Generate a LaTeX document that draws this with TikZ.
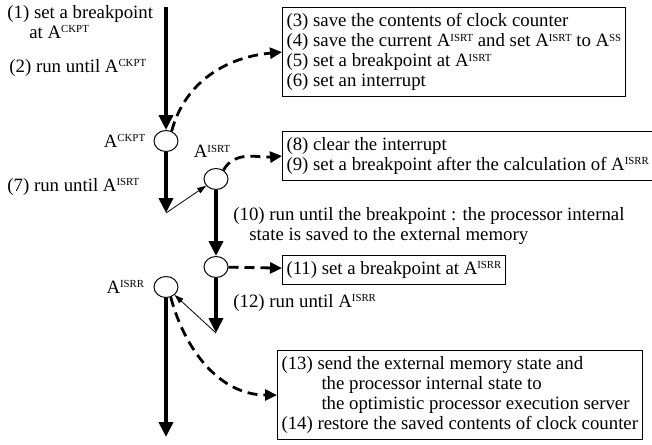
\documentclass[tikz,border=0pt]{standalone}
\usepackage{fontspec}
\setmainfont{Liberation Serif}
\usetikzlibrary{arrows.meta,positioning,shapes.geometric}
\newcommand{\addr}[1]{A\raisebox{2.8pt}{\fontsize{5.4}{6}\selectfont #1}}
\tikzstyle{bpt}=[draw, ellipse, fill=white, line width=0.5pt, minimum width=12pt, minimum height=10.5pt, inner sep=0pt]
\tikzstyle{box}=[draw, line width=0.5pt, align=left, inner xsep=2pt, inner ysep=3pt]
\tikzstyle{lab}=[align=left, inner sep=0pt]
\tikzstyle{runarrow}=[line width=2pt, -{Triangle[width=7pt,length=7.5pt]}]
\tikzstyle{hoparrow}=[line width=0.4pt, -{Triangle[width=3pt,length=4.5pt]}]
\tikzstyle{actarrow}=[line width=1.4pt, dash pattern=on 5pt off 3pt, -{Triangle[width=5.5pt,length=6pt]}]

\begin{document}
\begin{tikzpicture}[x=0.5pt, y=-0.5pt, font=\fontsize{9.4}{10}\selectfont]
  \useasboundingbox (0,0) rectangle (652,444);
  % break points
  \node [bpt] (ckpt) at (166,141) {};
  \node [bpt] (isrt) at (216,179) {};
  \node [bpt] (bp) at (216,267) {};
  \node [bpt] (isrr) at (166,287) {};
  \coordinate (start) at (166,7);
  \coordinate (ret1) at (166,213);
  \coordinate (ret2) at (216,333);
  \coordinate (finish) at (166,437);
  % steps along the flow
  \node [lab, anchor=west] (s1) at (7,22) {(1) set a breakpoint\\\hspace*{11pt}at \addr{CKPT}};
  \node [lab, anchor=west] (s2) at (9,68) {(2) run until \addr{CKPT}};
  \node [lab, left=4pt of ckpt] (nckpt) {\addr{CKPT}};
  \node [lab, anchor=west] (s7) at (7,187) {(7) run until \addr{ISRT}};
  \node [lab, above=5pt of isrt, xshift=-2pt] (nisrt) {\addr{ISRT}};
  \node [lab, anchor=north west] (s10) at (233,207) {(10) run until the breakpoint : the processor internal\\\hspace*{8pt}state is saved to the external memory};
  \node [lab, left=4.5pt of isrr] (nisrr) {\addr{ISRR}};
  \node [lab, anchor=west] (s12) at (233,303) {(12) run until \addr{ISRR}};
  % actions
  \node [box, anchor=north west] (b1) at (282,7) {(3) save the contents of clock counter\\(4) save the current \addr{ISRT} and set \addr{ISRT} to \addr{SS}\\(5) set a breakpoint at \addr{ISRT}\\(6) set an interrupt};
  \node [box, anchor=north west] (b2) at (282,131) {(8) clear the interrupt\\(9) set a breakpoint after the calculation of \addr{ISRR}};
  \node [box, anchor=north west] (b3) at (282,255) {(11) set a breakpoint at \addr{ISRR}};
  \node [box, anchor=north west] (b4) at (277,350) {(13) send the external memory state and\\\hspace*{20pt}the processor internal state to\\\hspace*{20pt}the optimistic processor execution server\\(14) restore the saved contents of clock counter};
  % flow
  \path[runarrow] (start) edge (ckpt);
  \path[runarrow] (ckpt) edge (ret1);
  \path[hoparrow] (ret1) edge (isrt);
  \path[runarrow] (isrt) edge (bp);
  \path[runarrow] (bp) edge (ret2);
  \path[hoparrow] (ret2) edge (isrr);
  \path[runarrow] (isrr) edge (finish);
  \path[actarrow] (ckpt.60) edge[out=75, in=185] (b1.west);
  \path[actarrow] (isrt.50) edge[out=60, in=185] (b2.west);
  \path[actarrow] (bp) edge (b3);
  \path[actarrow] (isrr.-65) edge[out=-75, in=180] (b4.west);
\end{tikzpicture}
\end{document}
